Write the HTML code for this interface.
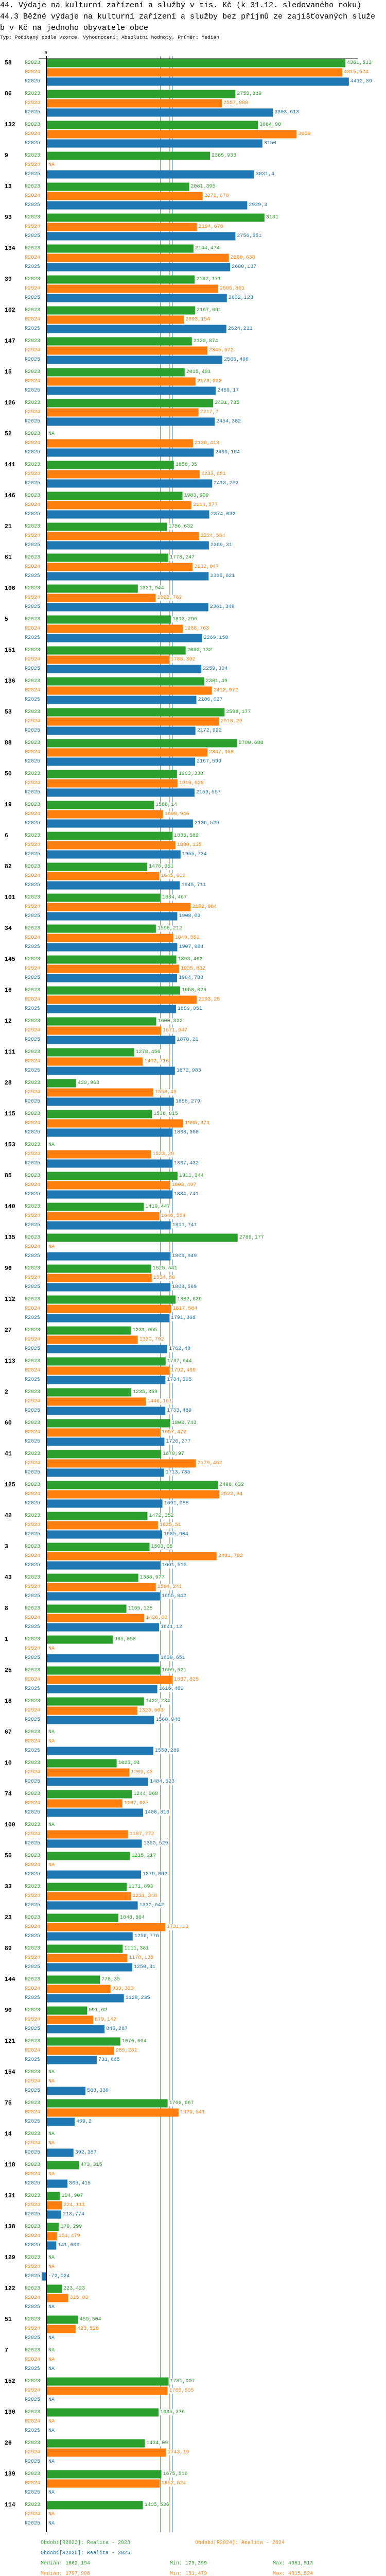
<!DOCTYPE html>
<html lang="cs">
<head>
<meta charset="utf-8">
<style>
  html,body{margin:0;padding:0;background:#fff;width:750px;height:5034px;overflow:hidden;}
  body{position:relative;font-family:"Liberation Mono","DejaVu Sans Mono",monospace;}
  .t{position:absolute;left:0;white-space:nowrap;color:#000;overflow:hidden;max-width:750px;}
  svg{display:block;}
  svg text{font-family:"Liberation Mono","DejaVu Sans Mono",monospace;}
</style>
</head>
<body>
<div class="t" style="top:0px;font-size:15px;line-height:22px;">44. Výdaje na kulturní zařízení a služby v tis. Kč (k 31.12. sledovaného roku)</div>
<div class="t" style="top:22px;font-size:15px;line-height:22px;">44.3 Běžné výdaje na kulturní zařízení a služby bez příjmů ze zajišťovaných služe</div>
<div class="t" style="top:44px;font-size:15px;line-height:22px;">b v Kč na jednoho obyvatele obce</div>
<div class="t" style="top:67px;font-size:9.6px;line-height:12px;">Typ: Počítaný podle vzorce, Vyhodnocení: Absolutní hodnoty, Průměr: Medián</div>

<svg id="chart" width="750" height="5034" style="position:absolute;left:0;top:0;overflow:hidden;" xmlns="http://www.w3.org/2000/svg"></svg>

<script>
const groups = ["58","86","132","9","13","93","134","39","102","147","15","126","52","141","146","21","61","106","5","151","136","53","88","50","19","6","82","101","34","145","16","12","111","28","115","153","85","140","135","96","112","27","113","2","60","41","125","42","3","43","8","1","25","18","67","10","74","100","56","33","23","89","144","90","121","154","75","14","118","131","138","129","122","51","7","152","130","26","139","114"];
const r2023 = [4361.513,2755.889,3084.98,2385.933,2081.395,3181,2144.474,2162.171,2167.091,2120.874,2015.491,2431.735,null,1858.35,1983.909,1756.632,1778.247,1331.944,1813.296,2030.132,2301.49,2598.177,2780.688,1903.338,1566.14,1836.582,1470.051,1664.467,1595.212,1893.462,1950.026,1600.822,1278.456,430.963,1536.815,null,1911.344,1419.447,2789.177,1525.441,1882.639,1231.955,1737.644,1235.359,1803.743,1670.97,2498.632,1472.352,1503.05,1338.977,1165.128,965.058,1659.921,1422.234,null,1023.04,1244.368,null,1215.217,1171.893,1048.504,1111.381,778.35,591.62,1076.604,null,1766.667,null,473.315,194.907,179.299,null,223.423,459.504,null,1781.007,1635.376,1434.09,1675.516,1405.536];
const r2024 = [4315.524,2557.808,3650,null,2278.678,2194.676,2660.638,2505.801,2003.154,2345.972,2173.502,2217.7,2136.413,2233.681,2114.577,2224.554,2132.047,1592.762,1988.763,1788.392,2412.972,2518.29,2347.958,1910.628,1698.946,1880.135,1645.606,2102.964,1849.551,1935.832,2193.25,1671.947,1402.716,1558.49,1995.371,1523.29,1803.497,1646.564,null,1534.56,1817.584,1330.702,1792.499,1446.161,1657.472,2179.462,2522.84,1625.51,2481.782,1594.241,1426.02,null,1837.825,1323.603,null,1209.08,1107.027,1187.772,null,1231.348,1731.13,1178.135,933.323,679.142,985.281,null,1926.541,null,null,224.111,151.479,null,315.83,423.528,null,1765.605,null,1743.19,1652.524,null];
const r2025 = [4412.89,3303.613,3150,3031.4,2929.3,2756.551,2680.137,2632.123,2624.211,2566.406,2469.17,2454.302,2439.154,2418.262,2374.032,2369.31,2365.621,2361.349,2269.158,2259.304,2186.627,2172.922,2167.599,2159.557,2136.529,1955.734,1945.711,1908.03,1907.984,1904.788,1889.051,1878.21,1872.983,1858.279,1838.308,1837.432,1834.741,1811.741,1809.949,1808.569,1791.368,1762.48,1734.595,1733.489,1720.277,1713.735,1691.088,1685.904,1661.515,1655.842,1641.12,1639.651,1616.462,1568.948,1558.289,1484.523,1408.816,1390.529,1379.062,1330.642,1256.776,1250.31,1128.235,846.287,731.665,568.339,409.2,392.387,305.415,213.774,141.606,-72.024,null,null,null,null,null,null,null,null];
const seriesNames = ["R2023","R2024","R2025"];
const medians = [1662.194,1797.998,1836.087];
const mins = ["179,299","151,479","-72,024"];
const maxs = ["4361,513","4315,524","4412,89"];
const legendNames = ["Období[R2023]: Realita - 2023","Období[R2024]: Realita - 2024","Období[R2025]: Realita - 2025"];

const colors = ["#2ca02c","#ff7f0e","#1f77b4"];
const NS = "http://www.w3.org/2000/svg";
const svg = document.getElementById("chart");
const X0 = 90.5, K = 0.1331;
function xs(v){ return X0 + v*K; }
const TOP = 114.5, GP = 60, BP = 18, BH = 16;
function gy(i){ return TOP + i*GP; }
function fmt(v){ return String(v).replace(".", ","); }
function mk(tag, attrs, parent){
  const e = document.createElementNS(NS, tag);
  for (const k in attrs) e.setAttribute(k, attrs[k]);
  (parent||svg).appendChild(e);
  return e;
}
const series = [r2023, r2024, r2025];
const endY = gy(groups.length) + 0.5;

medians.forEach((m, s) => {
  const l = mk("line", {x1: xs(m), x2: xs(m), y1: 109, y2: endY, stroke: colors[s], "stroke-width": 1});
  
  
});

groups.forEach((g, i) => {
  const top = gy(i);
  const gl = mk("text", {x: 9, y: top + 8, "font-size": 11.5, "font-weight": "bold", fill: "#000", "dominant-baseline": "central"});
  gl.textContent = g;
  
  
  series.forEach((arr, s) => {
    const y = top + s*BP;
    const sl = mk("text", {x: 78, y: y + 8, "font-size": 10, fill: colors[s], "text-anchor": "end", "dominant-baseline": "central"});
    sl.textContent = seriesNames[s];
    
    
    const v = arr[i];
    if (v === null) {
      const na = mk("text", {x: 94, y: y + 8, "font-size": 10, fill: colors[s], "dominant-baseline": "central"});
      na.textContent = "NA";
      
      
      return;
    }
    const x1 = xs(Math.min(0, v)), x2 = xs(Math.max(0, v));
    const r = mk("rect", {x: x1, y: y, width: Math.max(0, x2 - x1), height: BH, fill: colors[s]});
    
    
    const txt = fmt(v);
    const lx = (v >= 0 ? x2 : xs(0)) + 3;
    const bg = mk("rect", {x: lx - 1, y: y + 2, width: txt.length*6 + 2, height: 12, fill: "#fff"});
    
    
    const vl = mk("text", {x: lx, y: y + 8, "font-size": 10, fill: colors[s], "dominant-baseline": "central"});
    vl.textContent = txt;
    
    
  });
});

const ya = mk("rect", {x: 89, y: 109, width: 2, height: endY - 109, fill: "#000"});


const xa = mk("rect", {x: 75, y: 113.5, width: 620, height: 1, fill: "#000"});


const z = mk("text", {x: 89, y: 103, "font-size": 9, fill: "#000", "text-anchor": "middle", "dominant-baseline": "central"});
z.textContent = "0";



const legPos = [[79, 4936], [379, 4936], [79, 4956]];
legendNames.forEach((n, s) => {
  const t = mk("text", {x: legPos[s][0], y: legPos[s][1], "font-size": 10, fill: colors[s], "dominant-baseline": "central"});
  t.textContent = n;
  
  
});
medians.forEach((m, s) => {
  const y = 4976 + s*20;
  const a = mk("text", {x: 79, y: y, "font-size": 10, fill: colors[s], "dominant-baseline": "central"});
  a.textContent = "Medián: " + fmt(m);
  
  
  const b = mk("text", {x: 330, y: y, "font-size": 10, fill: colors[s], "dominant-baseline": "central"});
  b.textContent = "Min: " + mins[s];
  
  
  const c = mk("text", {x: 530, y: y, "font-size": 10, fill: colors[s], "dominant-baseline": "central"});
  c.textContent = "Max: " + maxs[s];
  
  
});
</script>
</body>
</html>
